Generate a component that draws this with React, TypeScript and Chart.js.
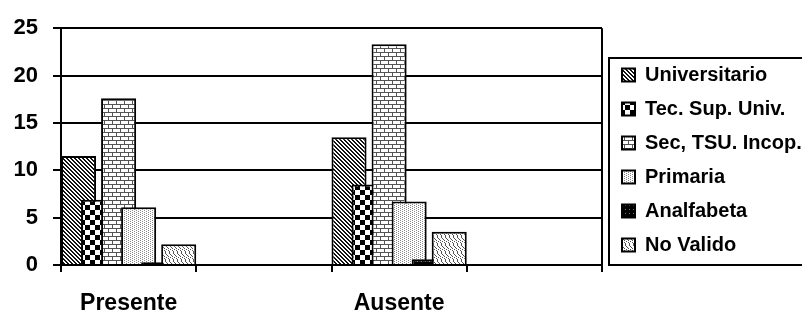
import React, { useEffect, useRef } from 'react';
import { Chart, registerables } from 'chart.js';

Chart.register(...registerables);

const categories = ['Presente', '', 'Ausente', ''];
const seriesNames = ['Universitario', 'Tec. Sup. Univ.', 'Sec, TSU. Incop.', 'Primaria', 'Analfabeta', 'No Valido'];
const universitario = [11.5, null, 13.5, null];
const tecSupUniv = [6.9, null, 8.5, null];
const secTsuIncop = [17.6, null, 23.3, null];
const primaria = [6.1, null, 6.7, null];
const analfabeta = [0.3, null, 0.6, null];
const noValido = [2.2, null, 3.5, null];
const yMin = 0;
const yMax = 25;
const yStep = 5;

const FONT = '"Liberation Sans", Arial, sans-serif';
const BAR_FRACTION = 35 / 135;
const LEGEND_SHIFT = 6;

type Drawer = (c: CanvasRenderingContext2D) => void;

function tile(main: CanvasRenderingContext2D, w: number, h: number, draw: Drawer): CanvasPattern {
  const cv = document.createElement('canvas');
  cv.width = w;
  cv.height = h;
  const c = cv.getContext('2d') as CanvasRenderingContext2D;
  draw(c);
  return main.createPattern(cv, 'repeat') as CanvasPattern;
}

function makePatterns(main: CanvasRenderingContext2D): CanvasPattern[] {
  const px = (c: CanvasRenderingContext2D, x: number, y: number, col: string) => {
    c.fillStyle = col;
    c.fillRect(x, y, 1, 1);
  };
  const univ = tile(main, 4, 4, (c) => {
    c.fillStyle = '#fff';
    c.fillRect(0, 0, 4, 4);
    for (let y = 0; y < 4; y++) for (let x = 0; x < 4; x++) if ((x - y + 8) % 4 < 2) px(c, x, y, '#111');
  });
  const tec = tile(main, 10, 10, (c) => {
    c.fillStyle = '#fff';
    c.fillRect(0, 0, 10, 10);
    c.fillStyle = '#000';
    c.fillRect(0, 0, 5, 5);
    c.fillRect(5, 5, 5, 5);
  });
  const sec = tile(main, 8, 8, (c) => {
    c.fillStyle = '#fff';
    c.fillRect(0, 0, 8, 8);
    c.fillStyle = '#555';
    c.fillRect(0, 0, 8, 1);
    c.fillRect(0, 4, 8, 1);
    c.fillRect(0, 0, 1, 4);
    c.fillRect(4, 4, 1, 4);
  });
  const prim = tile(main, 4, 2, (c) => {
    c.fillStyle = '#fff';
    c.fillRect(0, 0, 4, 2);
    px(c, 0, 0, '#888');
    px(c, 2, 1, '#888');
  });
  const anal = tile(main, 4, 4, (c) => {
    c.fillStyle = '#000';
    c.fillRect(0, 0, 4, 4);
    px(c, 1, 1, '#777');
  });
  const noVal = tile(main, 8, 8, (c) => {
    c.fillStyle = '#fff';
    c.fillRect(0, 0, 8, 8);
    const wave = [0, 1, 2, 2, 1, 0, 0, 0];
    for (let y = 0; y < 8; y++) {
      for (let k = 0; k < 8; k += 4) {
        px(c, (y + wave[y] + k) % 8, y, '#555');
      }
    }
  });
  return [univ, tec, sec, prim, anal, noVal];
}

const overlapBars = {
  id: 'overlapBars',
  beforeDatasetsDraw(chart: any) {
    const xs = chart.scales.x;
    const catW = xs.getPixelForValue(1) - xs.getPixelForValue(0);
    const n = chart.data.datasets.length;
    const barW = catW * BAR_FRACTION;
    const step = (catW - barW) / (n - 1);
    chart.data.datasets.forEach((_ds: any, i: number) => {
      const meta = chart.getDatasetMeta(i);
      meta.data.forEach((el: any, j: number) => {
        const left = xs.getPixelForValue(j) - catW / 2;
        el.x = left + i * step + barW / 2;
        el.width = barW;
      });
    });
  },
};

const frames = {
  id: 'frames',
  afterLayout(chart: any) {
    const lg = chart.legend;
    if (lg) {
      lg.left += LEGEND_SHIFT;
      lg.right += LEGEND_SHIFT;
    }
    const xs = chart.scales.x;
    if (xs) xs.bottom = chart.height;
  },
  afterDraw(chart: any) {
    const { ctx, chartArea } = chart;
    const lg = chart.legend;
    ctx.save();
    ctx.strokeStyle = '#000';
    ctx.lineWidth = 2;
    ctx.beginPath();
    ctx.moveTo(chartArea.right, chartArea.top);
    ctx.lineTo(chartArea.right, chartArea.bottom);
    ctx.stroke();
    if (lg && lg.columnSizes && lg.columnSizes[0]) {
      const pad = lg.options.labels.padding;
      const colH = lg.columnSizes[0].height;
      const firstRow = (lg.top + pad + lg.bottom - colH) / 2;
      const top = Math.round(firstRow - 7);
      ctx.strokeRect(lg.left + 1, top, chart.width, chartArea.bottom - top);
    }
    ctx.restore();
  },
};

export default function App() {
  const ref = useRef<HTMLCanvasElement | null>(null);
  useEffect(() => {
    document.body.style.margin = '0';
    const canvas = ref.current;
    if (!canvas) return;
    const ctx = canvas.getContext('2d') as CanvasRenderingContext2D;
    const patterns = makePatterns(ctx);
    const values = [universitario, tecSupUniv, secTsuIncop, primaria, analfabeta, noValido];
    Chart.defaults.color = '#000';
    Chart.defaults.font.family = FONT;
    const chart = new Chart(canvas, {
      type: 'bar',
      data: {
        labels: categories,
        datasets: seriesNames.map((name, i) => ({
          label: name,
          data: values[i],
          backgroundColor: patterns[i],
          borderColor: '#000',
          borderWidth: 2,
          grouped: false,
          order: seriesNames.length - 1 - i,
        })),
      },
      options: {
        responsive: false,
        animation: false,
        layout: { padding: { top: 27, bottom: 18, left: 0, right: 0 } },
        plugins: {
          tooltip: { enabled: false },
          legend: {
            position: 'right',
            maxWidth: 200,
            labels: {
              boxWidth: 13,
              boxHeight: 13,
              padding: 14,
              color: '#000',
              font: { family: FONT, size: 20, weight: 'bold' },
              sort: (a: any, b: any) => a.datasetIndex - b.datasetIndex,
            },
          },
        },
        scales: {
          x: {
            type: 'category',
            offset: true,
            afterFit: (s: any) => {
              s.height = 28;
            },
            grid: {
              offset: true,
              drawOnChartArea: false,
              drawTicks: true,
              tickLength: 7,
              color: '#000',
              lineWidth: 2,
            },
            border: { display: true, color: '#000', width: 2 },
            ticks: {
              autoSkip: false,
              maxRotation: 0,
              padding: 18,
              color: '#000',
              font: { family: FONT, size: 23, weight: 'bold' },
            },
          },
          y: {
            min: yMin,
            max: yMax,
            afterFit: (s: any) => {
              s.width = 61;
            },
            grid: {
              color: '#000',
              lineWidth: 2,
              tickLength: 8,
            },
            border: { display: true, color: '#000', width: 2 },
            ticks: {
              stepSize: yStep,
              padding: 15,
              color: '#000',
              font: { family: FONT, size: 22, weight: 'bold' },
            },
          },
        },
      },
      plugins: [overlapBars, frames],
    } as any);
    return () => chart.destroy();
  }, []);
  return (
    <div style={{ width: 802, height: 311 }}>
      <canvas ref={ref} width={802} height={311} style={{ display: 'block' }} />
    </div>
  );
}
